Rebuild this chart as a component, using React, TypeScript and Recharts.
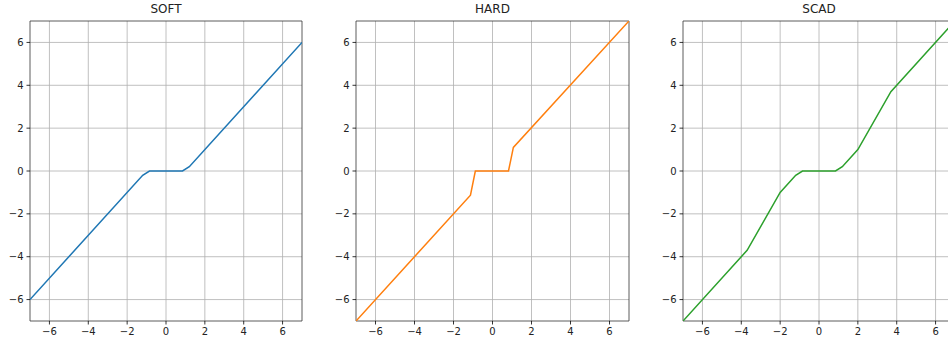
import React from 'react';
import { LineChart, Line, XAxis, YAxis, CartesianGrid, ReferenceArea } from 'recharts';

const ticks = [-6, -4, -2, 0, 2, 4, 6];
const softX = [-7, -1.2, -0.85, 0.85, 1.2, 7];
const softY = [-6, -0.2, 0, 0, 0.2, 6];
const hardX = [-7, -1.13, -0.88, 0.82, 1.07, 7];
const hardY = [-7, -1.13, 0, 0, 1.1, 7];
const scadX = [-7, -3.7, -2, -1.2, -0.85, 0.85, 1.2, 2, 3.7, 7];
const scadY = [-7, -3.7, -1, -0.2, 0, 0, 0.2, 1, 3.7, 7];

const build = (xs: number[], ys: number[]) => xs.map((x, i) => ({ x, y: ys[i] }));

const fmt = (v: number) => String(v).replace('-', '\u2212');
const font = 'DejaVu Sans, sans-serif';

function Panel({ title, data, color, left, rightMargin }: { title: string; data: { x: number; y: number }[]; color: string; left: number; rightMargin: number }) {
  const plotW = 320 - 30 - rightMargin;
  return (
    <div style={{ position: 'absolute', left, top: 0, width: 320, height: 349 }}>
      <div style={{ position: 'absolute', left: 30, top: 1, width: plotW, textAlign: 'center', fontFamily: font, fontSize: 12, color: '#222', lineHeight: '16px' }}>{title}</div>
      <LineChart width={320} height={349} data={data} margin={{ top: 21, right: rightMargin, bottom: 0, left: 0 }}>
        <CartesianGrid stroke="#b0b0b0" strokeWidth={0.8} horizontalValues={ticks} verticalValues={ticks} />
        <XAxis dataKey="x" type="number" domain={[-7, 7]} ticks={ticks} allowDataOverflow height={28}
          tickFormatter={fmt} tickSize={3.5} tickMargin={3} axisLine={false}
          tickLine={{ stroke: '#000', strokeWidth: 0.8 }}
          tick={{ fill: '#222', fontSize: 10, fontFamily: font }} />
        <YAxis type="number" domain={[-7, 7]} ticks={ticks} allowDataOverflow width={30}
          tickFormatter={fmt} tickSize={3.5} tickMargin={3} axisLine={false}
          tickLine={{ stroke: '#000', strokeWidth: 0.8 }}
          tick={{ fill: '#222', fontSize: 10, fontFamily: font }} />
        <Line dataKey="y" type="linear" stroke={color} strokeWidth={1.5} dot={false} isAnimationActive={false} />
        <ReferenceArea x1={-7} x2={7} y1={-7} y2={7} fill="none" fillOpacity={0} stroke="#333" strokeWidth={0.8} ifOverflow="visible" />
      </LineChart>
    </div>
  );
}

export default function App() {
  return (
    <div style={{ position: 'absolute', left: 0, top: 0, width: 948, height: 349, overflow: 'hidden', background: '#fff' }}>
      <Panel title="SOFT" data={build(softX, softY)} color="#1f77b4" left={0} rightMargin={18} />
      <Panel title="HARD" data={build(hardX, hardY)} color="#ff7f0e" left={326} rightMargin={17} />
      <Panel title="SCAD" data={build(scadX, scadY)} color="#2ca02c" left={653} rightMargin={18} />
    </div>
  );
}
